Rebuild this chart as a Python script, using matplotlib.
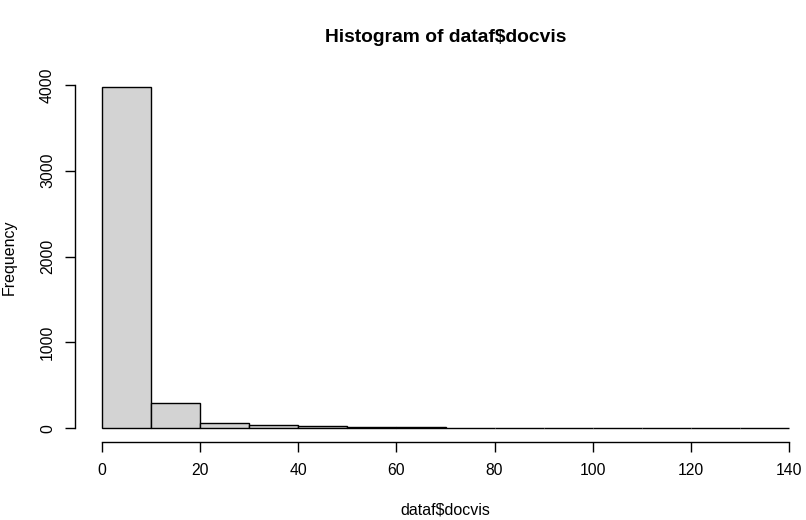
import matplotlib
matplotlib.use("Agg")
import matplotlib.pyplot as plt
import numpy as np

# Histogram data (bin edges and counts)
bin_edges = [0, 10, 20, 30, 40, 50, 60, 70, 80, 90, 100, 110, 120, 130, 140]
counts = [3980, 288, 55, 31, 20, 12, 10, 2, 1, 0, 1, 0, 0, 1]
x_ticks = [0, 20, 40, 60, 80, 100, 120, 140]
y_ticks = [0, 1000, 2000, 3000, 4000]
title = r"Histogram of dataf\$docvis"
xlabel = r"dataf\$docvis"
ylabel = "Frequency"

plt.rcParams['font.family'] = ['Liberation Sans', 'DejaVu Sans']

W, H = 806, 520
fig = plt.figure(figsize=(W / 100, H / 100), dpi=100)
left, right, top, bottom = 74.5, 816.5, 73.0, 441.8
ax = fig.add_axes([left / W, 1 - bottom / H, (right - left) / W, (bottom - top) / H])

lefts = bin_edges[:-1]
widths = np.diff(bin_edges)
ax.bar(lefts, counts, width=widths, align='edge', color='#D3D3D3',
       edgecolor='black', linewidth=1.0)

xr = bin_edges[-1] - bin_edges[0]
ax.set_xlim(bin_edges[0] - 0.04 * xr, bin_edges[-1] + 0.04 * xr)
ymax = max(counts)
ax.set_ylim(-0.04 * ymax, ymax * 1.04)

for s in ['top', 'right']:
    ax.spines[s].set_visible(False)
ax.spines['left'].set_bounds(y_ticks[0], y_ticks[-1])
ax.spines['bottom'].set_bounds(x_ticks[0], x_ticks[-1])
for s in ['left', 'bottom']:
    ax.spines[s].set_linewidth(1.0)

ax.set_xticks(x_ticks)
ax.set_yticks(y_ticks)
ax.set_yticklabels([str(v) for v in y_ticks], rotation=90, va='center')
ax.tick_params(axis='both', direction='out', length=7, width=1.0,
               labelsize=11.3, colors='black')
ax.tick_params(axis='x', pad=8.6)
ax.tick_params(axis='y', pad=7)

fig.text((left + right) / 2 / W, 1 - 41.7 / H, title, ha='center', va='baseline',
         fontsize=13.9, fontweight='bold')
fig.text((left + right) / 2 / W, 1 - 515 / H, xlabel, ha='center', va='baseline',
         fontsize=11.5)
fig.text(9.2 / W, 1 - 257 / H, ylabel, ha='center', va='center', rotation=90,
         fontsize=11.5)

fig.savefig("out.png", dpi=100)
